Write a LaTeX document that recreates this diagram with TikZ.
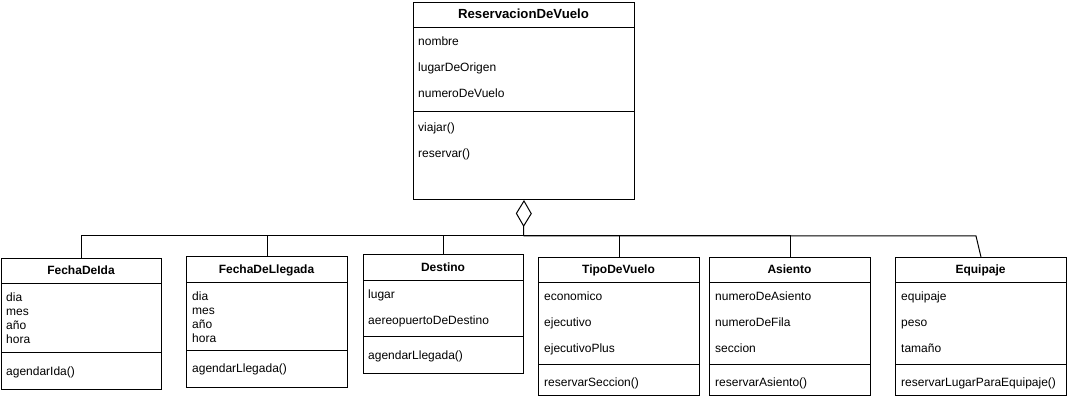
\documentclass[tikz,border=0pt]{standalone}
\usepackage{fontspec}
\setmainfont{Liberation Sans}
\usetikzlibrary{arrows.meta}
\tikzset{
  umlbox/.style={draw, line width=1pt, inner sep=0pt, anchor=north west},
  ctitle/.style={font=\fontsize{12}{14}\selectfont\bfseries, inner sep=0pt, text height=9pt, text depth=2.5pt},
  attr/.style={font=\fontsize{12}{14}\selectfont, anchor=west, inner sep=0pt, text height=9pt, text depth=2.5pt},
  link/.style={line width=1pt},
  aggr/.style={line width=1pt, -{Diamond[open, length=27pt, width=16pt]}}
}
\begin{document}
\begin{tikzpicture}[x=1pt,y=-1pt]
\useasboundingbox (0,0) rectangle (1072,406);
% top class
\node[umlbox, minimum width=221pt, minimum height=197pt] (reserva) at (413,2) {};
\draw [link](413,28) -- (634,28);
\draw [link](413,112) -- (634,112);
\node[ctitle, font=\fontsize{13.2}{15}\selectfont\bfseries] (reservaT) at (523.5,15) {ReservacionDeVuelo};
\foreach \t [count=\i] in {nombre,lugarDeOrigen,numeroDeVuelo}
  \node[attr] (reservaA\i) at (418,16+26*\i) {\t};
\foreach \t [count=\i] in {viajar(),reservar()}
  \node[attr] (reservaM\i) at (418,102+26*\i) {\t};
% FechaDeIda
\node[umlbox, minimum width=160pt, minimum height=131pt] (fechaida) at (1,258) {};
\draw [link](1,284) -- (161,284);
\draw [link](1,353) -- (161,353);
\node[ctitle] (fechaidaT) at (81,271) {FechaDeIda};
\foreach \t [count=\i] in {dia,mes,año,hora}
  \node[attr] (fechaidaA\i) at (6,284+14*\i) {\t};
\node[attr] (fechaidaM1) at (6,372) {agendarIda()};
% FechaDeLlegada
\node[umlbox, minimum width=161pt, minimum height=131pt] (fechallegada) at (186,256) {};
\draw [link](186,283) -- (347,283);
\draw [link](186,351) -- (347,351);
\node[ctitle] (fechallegadaT) at (266.5,270) {FechaDeLlegada};
\foreach \t [count=\i] in {dia,mes,año,hora}
  \node[attr] (fechallegadaA\i) at (192,283+14*\i) {\t};
\node[attr] (fechallegadaM1) at (192,369) {agendarLlegada()};
% Destino
\node[umlbox, minimum width=160pt, minimum height=119pt] (destino) at (363,254) {};
\draw [link](363,281) -- (523,281);
\draw [link](363,337) -- (523,337);
\node[ctitle] (destinoT) at (443,268) {Destino};
\node[attr] (destinoA1) at (368,295) {lugar};
\node[attr] (destinoA2) at (368,321) {aereopuertoDeDestino};
\node[attr] (destinoM1) at (368,356) {agendarLlegada()};
% TipoDeVuelo
\node[umlbox, minimum width=161pt, minimum height=138pt] (tipovuelo) at (538,257) {};
\draw [link](538,283) -- (699,283);
\draw [link](538,365) -- (699,365);
\node[ctitle] (tipovueloT) at (618.5,270) {TipoDeVuelo};
\foreach \t [count=\i] in {economico,ejecutivo,ejecutivoPlus}
  \node[attr] (tipovueloA\i) at (544,271+26*\i) {\t};
\node[attr] (tipovueloM1) at (544,383) {reservarSeccion()};
% Asiento
\node[umlbox, minimum width=161pt, minimum height=138pt] (asiento) at (709,257) {};
\draw [link](709,283) -- (870,283);
\draw [link](709,365) -- (870,365);
\node[ctitle] (asientoT) at (789.5,270) {Asiento};
\foreach \t [count=\i] in {numeroDeAsiento,numeroDeFila,seccion}
  \node[attr] (asientoA\i) at (715,271+26*\i) {\t};
\node[attr] (asientoM1) at (715,383) {reservarAsiento()};
% Equipaje
\node[umlbox, minimum width=171pt, minimum height=138pt] (equipaje) at (895,257) {};
\draw [link](895,283) -- (1066,283);
\draw [link](895,365) -- (1066,365);
\node[ctitle] (equipajeT) at (980.5,270) {Equipaje};
\foreach \t [count=\i] in {equipaje,peso,tamaño}
  \node[attr] (equipajeA\i) at (901,271+26*\i) {\t};
\node[attr] (equipajeM1) at (901,383) {reservarLugarParaEquipaje()};
% aggregation
\coordinate (bus) at (523.5,236);
\coordinate (busend) at (976,236);
\draw [aggr](bus) -- (reserva.south);
\draw [link](fechaida.north) |- (bus);
\draw [link](fechallegada.north) |- (bus);
\draw [link](destino.north) |- (bus);
\draw [link](tipovuelo.north) |- (bus);
\draw [link](asiento.north) |- (bus);
\draw [link](equipaje.north) -- (busend) -- (bus);
\end{tikzpicture}
\end{document}
